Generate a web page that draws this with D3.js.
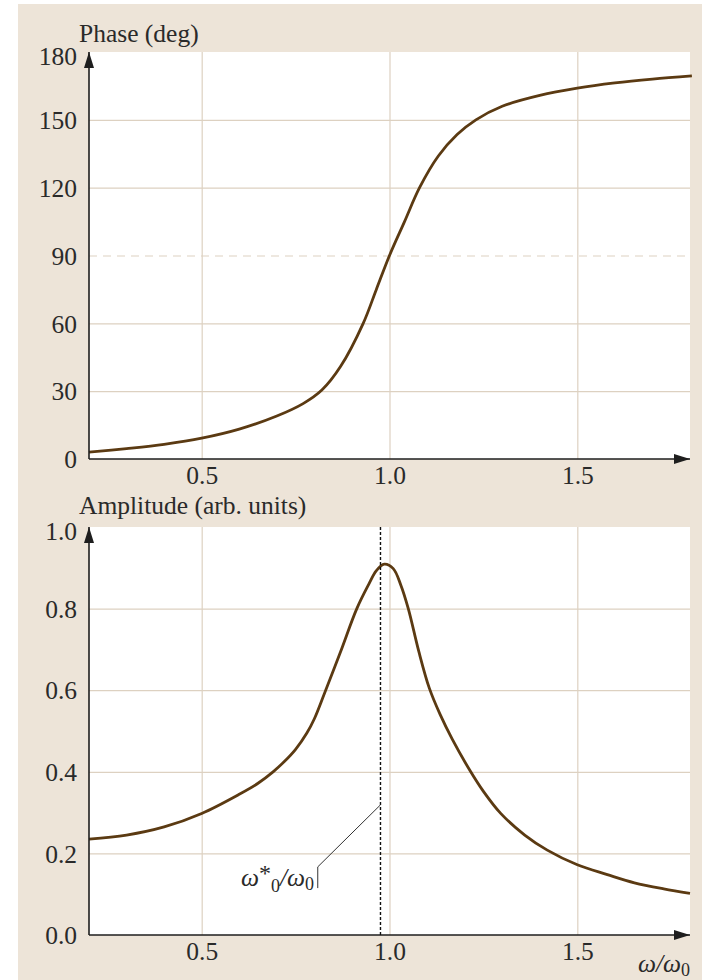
<!DOCTYPE html>
<html>
<head>
<meta charset="utf-8">
<script src="https://cdn.jsdelivr.net/npm/d3@7"></script>
<style>
  body { margin: 0; background: #fff; }
  text { font-family: "Liberation Serif", "DejaVu Serif", serif; fill: #2a2a2a; }
</style>
</head>
<body>
<svg id="chart"></svg>
<script>
/* Data */
const phaseOmega = [0.2, 0.3, 0.4, 0.5, 0.6, 0.7, 0.77, 0.82, 0.87, 0.93, 0.965, 1.0, 1.04, 1.08, 1.13, 1.18, 1.23, 1.3, 1.4, 1.5, 1.6, 1.7, 1.805];
const phaseDeg   = [3.0, 4.6, 6.5, 9.2, 13.2, 19.0, 24.5, 30.5, 41, 60, 75, 90, 105, 120, 134, 143.5, 150, 156, 160.8, 164.0, 166.3, 168.0, 169.4];

const ampOmega = [0.2, 0.3, 0.4, 0.5, 0.6, 0.65, 0.69, 0.72, 0.75, 0.78, 0.8, 0.826, 0.87, 0.913, 0.945, 0.965, 0.986, 1.01, 1.03, 1.05, 1.078, 1.106, 1.135, 1.167, 1.213, 1.25, 1.296, 1.36, 1.42, 1.5, 1.58, 1.652, 1.73, 1.8];
const ampValue = [0.235, 0.245, 0.265, 0.298, 0.345, 0.372, 0.40, 0.425, 0.455, 0.495, 0.53, 0.59, 0.695, 0.80, 0.86, 0.893, 0.909, 0.898, 0.858, 0.80, 0.695, 0.605, 0.54, 0.48, 0.405, 0.352, 0.298, 0.245, 0.208, 0.172, 0.148, 0.128, 0.113, 0.102];

const xTicks = [0.5, 1.0, 1.5];
const phaseTicks = [0, 30, 60, 90, 120, 150, 180];
const ampTicks = [0, 0.2, 0.4, 0.6, 0.8, 1.0];
const omegaStar = 0.976;

/* Layout */
const W = 702, H = 980;
const left = 89, right = 690;
const topPanel = { top: 52, bottom: 459, titleGap: 10 };
const botPanel = { top: 527, bottom: 935, titleGap: 13 };
const curveColor = "#5b3a12";
const gridColor = "#ddd1c1";
const axisColor = "#1e1e1e";
const fs = 25.5;

const svg = d3.select("#chart").attr("width", W).attr("height", H);

svg.append("rect").attr("x", 18).attr("y", 4).attr("width", W - 18).attr("height", H - 4)
    .attr("fill", "#ede4d8");

/* Arrow marker */
svg.append("defs").append("marker")
    .attr("id", "arrow")
    .attr("viewBox", "0 0 16 10")
    .attr("refX", 16).attr("refY", 5)
    .attr("markerWidth", 16).attr("markerHeight", 10)
    .attr("markerUnits", "userSpaceOnUse")
    .attr("orient", "auto")
  .append("path")
    .attr("d", "M0,0 L16,5 L0,10 Z")
    .attr("fill", axisColor);

const x = d3.scaleLinear().domain([0.2, 1.8]).range([left, right]);

function panel(p, yDomain, yTicks, fmt, xs, ys, title) {
    const y = d3.scaleLinear().domain(yDomain).range([p.bottom, p.top]);
    const g = svg.append("g");

    g.append("rect").attr("x", left).attr("y", p.top)
        .attr("width", right - left).attr("height", p.bottom - p.top).attr("fill", "#fff");

    /* vertical grid */
    g.append("g").attr("transform", `translate(0,${p.top})`)
        .call(d3.axisBottom(x).tickValues(xTicks).tickSize(p.bottom - p.top).tickFormat(""))
        .call(s => s.select(".domain").remove())
        .call(s => s.selectAll("line").attr("stroke", gridColor).attr("stroke-width", 1.2));

    /* horizontal grid */
    const hTicks = yTicks.filter(t => t !== yDomain[0] && t !== yDomain[1]);
    g.append("g").attr("transform", `translate(${left},0)`)
        .call(d3.axisRight(y).tickValues(hTicks).tickSize(right - left).tickFormat(""))
        .call(s => s.select(".domain").remove())
        .call(s => s.selectAll("line").attr("stroke", gridColor).attr("stroke-width", 1.2)
            .attr("stroke-dasharray", d => d === 90 ? "8,6" : null));

    /* curve */
    const line = d3.line().x(d => x(d[0])).y(d => y(d[1])).curve(d3.curveCatmullRom.alpha(0.5));
    g.append("path").datum(xs.map((v, i) => [v, ys[i]]))
        .attr("d", line).attr("fill", "none")
        .attr("stroke", curveColor).attr("stroke-width", 2.8);

    /* axes lines with arrows */
    g.append("line").attr("x1", left).attr("x2", left).attr("y1", p.bottom).attr("y2", p.top)
        .attr("stroke", axisColor).attr("stroke-width", 1.6).attr("marker-end", "url(#arrow)");
    g.append("line").attr("x1", left).attr("x2", right).attr("y1", p.bottom).attr("y2", p.bottom)
        .attr("stroke", axisColor).attr("stroke-width", 1.6).attr("marker-end", "url(#arrow)");

    /* y tick labels */
    g.append("g").attr("transform", `translate(${left},0)`)
        .call(d3.axisLeft(y).tickValues(yTicks).tickSize(0).tickPadding(12).tickFormat(fmt))
        .call(s => s.select(".domain").remove())
        .call(s => s.selectAll("text")
            .attr("font-size", fs).attr("fill", "#2a2a2a")
            .attr("font-family", "Liberation Serif")
            .attr("dy", d => d === yDomain[1] ? "0.5em" : "0.34em"));

    /* x tick labels */
    g.append("g").attr("transform", `translate(0,${p.bottom})`)
        .call(d3.axisBottom(x).tickValues(xTicks).tickSize(0).tickPadding(7).tickFormat(d3.format(".1f")))
        .call(s => s.select(".domain").remove())
        .call(s => s.selectAll("text")
            .attr("font-size", fs).attr("fill", "#2a2a2a")
            .attr("font-family", "Liberation Serif"));

    /* title */
    g.append("text").attr("x", left - 10).attr("y", p.top - p.titleGap)
        .attr("font-size", fs).text(title);

    return y;
}

panel(topPanel, [0, 180], phaseTicks, d3.format("d"), phaseOmega, phaseDeg, "Phase (deg)");
const yAmp = panel(botPanel, [0, 1], ampTicks, d3.format(".1f"), ampOmega, ampValue, "Amplitude (arb. units)");

/* resonance marker */
svg.append("line")
    .attr("x1", x(omegaStar)).attr("x2", x(omegaStar))
    .attr("y1", yAmp(1)).attr("y2", yAmp(0))
    .attr("stroke", "#111").attr("stroke-width", 1.4).attr("stroke-dasharray", "3,2");

/* leader line to label */
svg.append("path")
    .attr("d", `M${x(0.809)},${yAmp(0.115)} L${x(0.809)},${yAmp(0.167)} L${x(omegaStar)},${yAmp(0.319)}`)
    .attr("fill", "none").attr("stroke", "#333").attr("stroke-width", 1);

const lab = svg.append("text").attr("x", x(0.799)).attr("y", yAmp(0.12))
    .attr("text-anchor", "end").attr("font-size", fs);
lab.append("tspan").attr("font-style", "italic").text("ω");
lab.append("tspan").attr("dy", -5).attr("font-size", 24).text("*");
lab.append("tspan").attr("dy", 11).attr("font-size", 18).text("0");
lab.append("tspan").attr("dy", -6).attr("font-style", "italic").text("/ω");
lab.append("tspan").attr("dy", 4).attr("font-size", 18).text("0");

/* x axis name */
const xl = svg.append("text").attr("x", right).attr("y", 972)
    .attr("text-anchor", "end").attr("font-size", fs);
xl.append("tspan").attr("font-style", "italic").text("ω/ω");
xl.append("tspan").attr("dy", 4).attr("font-size", 18).text("0");
</script>
</body>
</html>
